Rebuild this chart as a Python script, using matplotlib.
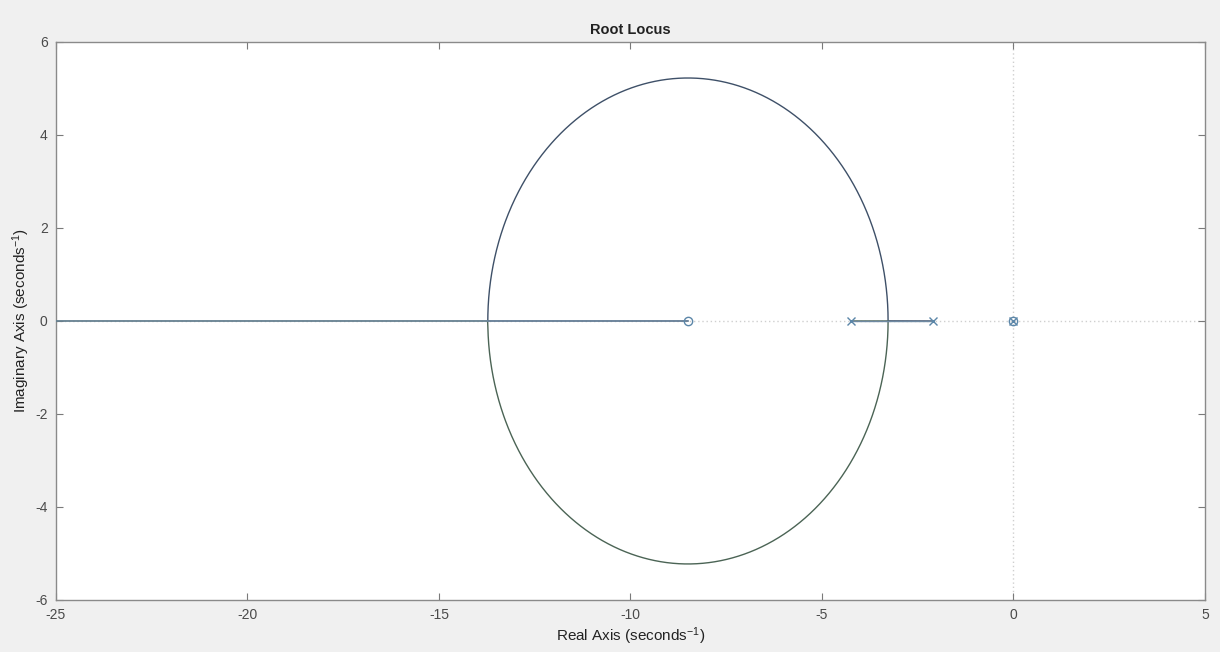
import numpy as np
import matplotlib
matplotlib.use("Agg")
import matplotlib.pyplot as plt

plt.rcParams["font.family"] = ["Liberation Sans", "DejaVu Sans"]
plt.rcParams["axes.unicode_minus"] = False
plt.rcParams["mathtext.fontset"] = "custom"
plt.rcParams["mathtext.rm"] = "Liberation Sans"
plt.rcParams["mathtext.it"] = "Liberation Sans:italic"

# System data
poles = [0.0, -2.09, -4.24]
zeros = [0.0, -8.5]
xlim = (-25, 5)
ylim = (-6, 6)
xticks = [-25, -20, -15, -10, -5, 0, 5]
yticks = [-6, -4, -2, 0, 2, 4, 6]

# Root locus of s(s+8.5) / (s(s+2.09)(s+4.24)) computed over gain K
num = np.poly(zeros)
den = np.poly(poles)
# reduced quadratic (common factor s removed): (s+2.09)(s+4.24) + K (s+8.5)
q_den = np.poly(poles[1:])
q_num = np.poly(zeros[1:])
# gains at breakaway / break-in: discriminant of quadratic = 0
a1, a0 = q_den[1], q_den[2]
n0 = q_num[1]
# (a1+K)^2 - 4(a0 + n0 K) = 0 -> K^2 + (2a1 - 4n0)K + a1^2 - 4a0 = 0
kb = np.sort(np.real(np.roots([1, 2 * a1 - 4 * n0, a1 ** 2 - 4 * a0])))
offs = np.logspace(-9, 0, 400)
K = np.concatenate([np.linspace(0, 2, 3000), np.logspace(0, 6, 6000), kb,
                    kb[0] - offs * kb[0], kb[0] + offs * kb[0],
                    kb[1] - offs * kb[1] * 0.5, kb[1] + offs * kb[1]])
K = np.unique(K[K >= 0])
b1, b2 = [], []
for k in K:
    r = np.roots(np.polyadd(q_den, k * q_num))
    if abs(r[0].imag) > 1e-12:
        up = r[np.argmax(r.imag)]
        lo = r[np.argmin(r.imag)]
    else:
        up = r[np.argmax(r.real)]
        lo = r[np.argmin(r.real)]
    b1.append(up)
    b2.append(lo)
b1 = np.array(b1)
b2 = np.array(b2)

fig = plt.figure(figsize=(12.2, 6.52), dpi=100, facecolor="#f0f0f0")
ax = fig.add_axes([0.0459, 0.0798, 0.9418, 0.8558])
ax.set_facecolor("white")

ax.axhline(0, color="#cfcfcf", lw=1.0, ls=(0, (1, 2)), zorder=1)
ax.axvline(0, color="#cfcfcf", lw=1.0, ls=(0, (1, 2)), zorder=1)

ax.plot(b1.real, b1.imag, color="#3e5068", lw=1.0, zorder=3)
ax.plot(b2.real, b2.imag, color="#4b6455", lw=1.0, zorder=3)
# real-axis parts of the locus drawn in blue-gray
for br in (b1, b2):
    m = (np.abs(br.imag) < 1e-12)
    ax.plot(br.real[m & (br.real < -8)], br.imag[m & (br.real < -8)], color="#6f8aa3", lw=1.0, zorder=3)
    ax.plot(br.real[m & (br.real > -8)], br.imag[m & (br.real > -8)], color="#6f8aa3", lw=1.0, zorder=3)

ax.plot(poles, np.zeros(len(poles)), ls="none", marker="x", ms=6, mew=1.0, color="#5b86a8", zorder=4)
ax.plot(zeros, np.zeros(len(zeros)), ls="none", marker="o", ms=6, mew=1.0, mfc="none", mec="#5b86a8", zorder=4)

ax.set_xlim(*xlim)
ax.set_ylim(*ylim)
ax.set_xticks(xticks)
ax.set_yticks(yticks)
ax.tick_params(direction="in", top=True, right=True, length=5, width=0.8,
               colors="#7a7a7a", labelcolor="#4a4a4a", labelsize=10, pad=6)
for s in ax.spines.values():
    s.set_color("#8a8a8a")
    s.set_linewidth(1.0)

ax.set_title("Root Locus", fontsize=10.5, fontweight="bold", color="#222222", pad=6)
ax.set_xlabel("Real Axis (seconds$^{-1}$)", fontsize=11, color="#222222", labelpad=2)
ax.set_ylabel("Imaginary Axis (seconds$^{-1}$)", fontsize=11, color="#222222", labelpad=2)

fig.savefig("out.png", dpi=100, facecolor=fig.get_facecolor())
